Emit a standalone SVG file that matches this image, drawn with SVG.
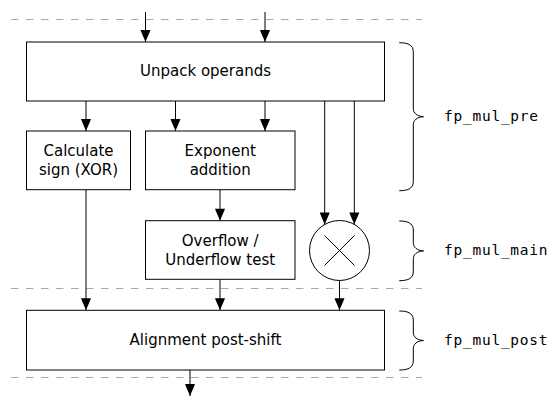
<svg xmlns="http://www.w3.org/2000/svg" width="552" height="397" viewBox="0 0 552 397">
  <style>
    .box { fill: #ffffff; stroke: #000000; stroke-width: 1; }
    .lbl { font-family: "DejaVu Sans", "Liberation Sans", sans-serif; font-size: 15px; fill: #000000; text-anchor: middle; }
    .stage { font-family: "DejaVu Sans Mono", "Liberation Mono", monospace; font-size: 14.5px; letter-spacing: 0.75px; fill: #000000; }
    .sep { stroke: #a8a8a8; stroke-width: 1; stroke-dasharray: 7.5 7.5; fill: none; }
    .wire { stroke: #000000; stroke-width: 1; fill: none; marker-end: url(#head); }
    .brace { stroke: #000000; stroke-width: 1; fill: none; }
  </style>
  <defs>
    <marker id="head" markerUnits="userSpaceOnUse" viewBox="-13 -6 14 12" refX="0" refY="0" markerWidth="14" markerHeight="12" orient="auto">
      <path d="M0,0 C-3,-1 -8,-3.5 -12,-5 L-12,5 C-8,3.5 -3,1 0,0 Z" fill="#000000"/>
    </marker>
  </defs>

  <!-- pipeline stage separators -->
  <g id="separators">
    <line class="sep" x1="11" y1="19.5" x2="422" y2="19.5"/>
    <line class="sep" x1="11" y1="288.5" x2="422" y2="288.5"/>
    <line class="sep" x1="11" y1="377.5" x2="422" y2="377.5"/>
  </g>

  <!-- data flow -->
  <g id="connectors">
    <line class="wire" x1="145.5" y1="12" x2="145.5" y2="42"/>
    <line class="wire" x1="265" y1="12" x2="265" y2="42"/>
    <line class="wire" x1="86" y1="101" x2="86" y2="131"/>
    <line class="wire" x1="175.5" y1="101" x2="175.5" y2="131"/>
    <line class="wire" x1="265" y1="101" x2="265" y2="131"/>
    <line class="wire" x1="324.7" y1="101" x2="324.7" y2="224.4"/>
    <line class="wire" x1="354.3" y1="101" x2="354.3" y2="224.4"/>
    <line class="wire" x1="220" y1="189.7" x2="220" y2="220.7"/>
    <line class="wire" x1="86" y1="189.7" x2="86" y2="310.3"/>
    <line class="wire" x1="220" y1="279.3" x2="220" y2="310.3"/>
    <line class="wire" x1="339.5" y1="280.5" x2="339.5" y2="310.3"/>
    <line class="wire" x1="190" y1="370" x2="190" y2="396"/>
  </g>

  <g id="unpack">
    <rect class="box" x="26.5" y="42" width="358" height="59"/>
    <text class="lbl" x="205.5" y="76">Unpack operands</text>
  </g>

  <g id="sign">
    <rect class="box" x="26.5" y="131" width="104" height="58.7"/>
    <text class="lbl" x="78.5" y="155.5">Calculate</text>
    <text class="lbl" x="78.5" y="174.5">sign (XOR)</text>
  </g>

  <g id="exponent">
    <rect class="box" x="145.5" y="131" width="149.5" height="58.7"/>
    <text class="lbl" x="220.2" y="155.5">Exponent</text>
    <text class="lbl" x="220.2" y="174.5">addition</text>
  </g>

  <g id="overflow">
    <rect class="box" x="145.5" y="220.7" width="149.5" height="58.6"/>
    <text class="lbl" x="220.2" y="245.5">Overflow /</text>
    <text class="lbl" x="220.2" y="265">Underflow test</text>
  </g>

  <g id="multiplier">
    <circle class="box" cx="339.5" cy="250.5" r="30"/>
    <line x1="324.5" y1="235.5" x2="354.5" y2="265.5" stroke="#000000" stroke-width="1"/>
    <line x1="354.5" y1="235.5" x2="324.5" y2="265.5" stroke="#000000" stroke-width="1"/>
  </g>

  <g id="align">
    <rect class="box" x="26.5" y="310.3" width="358" height="59.7"/>
    <text class="lbl" x="205.5" y="345">Alignment post-shift</text>
  </g>

  <!-- module braces -->
  <g id="stage-pre">
    <path class="brace" d="M399.3,42.7 C407,42.7 413.3,44.5 413.3,51.7 L413.3,108.7 C413.3,113 417,116.4 423.5,116.7 C417,117 413.3,120.4 413.3,124.7 L413.3,181.7 C413.3,188.9 407,190.7 399.3,190.7"/>
    <text class="stage" x="444" y="120.7">fp_mul_pre</text>
  </g>

  <g id="stage-main">
    <path class="brace" d="M399.3,221 C407,221 413.3,222.8 413.3,230 L413.3,242.9 C413.3,247.2 417,250.6 423.5,250.9 C417,251.2 413.3,254.6 413.3,258.9 L413.3,271.7 C413.3,278.9 407,280.7 399.3,280.7"/>
    <text class="stage" x="444" y="255">fp_mul_main</text>
  </g>

  <g id="stage-post">
    <path class="brace" d="M399.3,311 C407,311 413.3,312.8 413.3,320 L413.3,332.5 C413.3,336.8 417,340.2 423.5,340.5 C417,340.8 413.3,344.2 413.3,348.5 L413.3,361 C413.3,368.2 407,370 399.3,370"/>
    <text class="stage" x="444" y="344.7">fp_mul_post</text>
  </g>
</svg>
